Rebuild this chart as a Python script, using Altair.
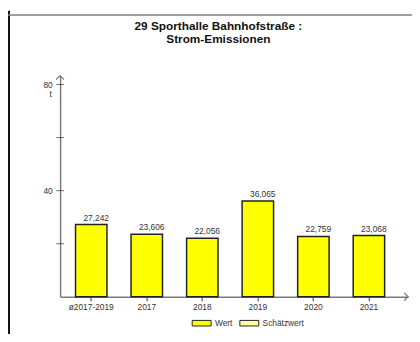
import altair as alt
import pandas as pd

# ---- data ----
categories = ["ø2017-2019", "2017", "2018", "2019", "2020", "2021"]
values = [27.242, 23.606, 22.056, 36.065, 22.759, 23.068]
series = ["Wert", "Schätzwert"]
y_tick_values = [20, 40, 60, 80]
y_label_values = [40, 80]
title_lines = ["29 Sporthalle Bahnhofstraße :", "Strom-Emissionen"]

FONT = "Liberation Sans"
W, H = 354, 225
YMAX = 225 / 2.7

df = pd.DataFrame({
    "Kategorie": categories,
    "Wert": values,
    "Art": ["Wert"] * len(categories),
    "Label": [f"{v:.3f}".replace(".", ",") for v in values],
})
ticks_df = pd.DataFrame({"Wert": y_tick_values})
one = pd.DataFrame({"a": [0]})

x_enc = alt.X(
    "Kategorie:N", sort=categories, title=None,
    scale=alt.Scale(paddingInner=0.434, paddingOuter=0.35, align=0.397),
    axis=alt.Axis(labelAngle=0, labelFont=FONT, labelFontSize=8.5, labelColor="#333333",
                  labelPadding=2, tickSize=4, tickColor="#333333", tickWidth=1,
                  domainColor="#7a7a7a", domainWidth=1.5, grid=False),
)
y_axis = alt.Axis(values=y_label_values, ticks=False, tickSize=0, labelPadding=8,
                  labelFont=FONT, labelFontSize=8.5, labelColor="#333333",
                  domainColor="#7a7a7a", domainWidth=1.5, grid=False,
                  title="t", titleAngle=0, titleX=-10, titleY=18, titleAlign="center",
                  titleBaseline="middle", titleFont=FONT, titleFontSize=8.5,
                  titleFontWeight="normal", titleColor="#333333")
y_scale = alt.Scale(domain=[0, YMAX], nice=False, zero=True)
y_enc = alt.Y("Wert:Q", scale=y_scale, axis=y_axis)

base = alt.Chart(df).encode(x=x_enc, y=y_enc)

bars = base.mark_bar(stroke="#222222", strokeWidth=1.5, opacity=1).encode(
    color=alt.Color(
        "Art:N",
        scale=alt.Scale(domain=series, range=["#ffff00", "#ffffa0"]),
        legend=alt.Legend(
            title=None, orient="none", direction="horizontal", legendX=133.5, legendY=241,
            symbolType="M-1,-0.294H1V0.294H-1Z", symbolSize=371,
            symbolStrokeColor="#222222", symbolStrokeWidth=1, symbolOpacity=1,
            labelFont=FONT, labelFontSize=8.5, labelColor="#333333",
            labelOffset=3, columnPadding=4.5, padding=0,
        ),
    )
)

texts = base.mark_text(baseline="bottom", dy=-2, dx=5, font=FONT, fontSize=8.5,
                       color="#333333").encode(text="Label:N")

yticks = alt.Chart(ticks_df).mark_tick(orient="horizontal", size=8, thickness=1,
                                       color="#333333").encode(
    y=alt.Y("Wert:Q", scale=y_scale, axis=y_axis), x=alt.value(0))

y_arrow = alt.Chart(one).mark_point(shape="M-1,1L0,0L1,1", filled=False, size=64,
                                    stroke="#7a7a7a", strokeWidth=1.3, opacity=1).encode(
    x=alt.value(0), y=alt.value(0))
x_arrow = alt.Chart(one).mark_point(shape="M-1,-1L0,0L-1,1", filled=False, size=64,
                                    stroke="#7a7a7a", strokeWidth=1.3, opacity=1).encode(
    x=alt.value(W), y=alt.value(H))

frame_left = alt.Chart(one).mark_rect(color="#111111", opacity=1).encode(
    x=alt.value(-53), x2=alt.value(-51), y=alt.value(-66), y2=alt.value(H + 40))
frame_top = alt.Chart(one).mark_rect(color="#808080", opacity=1).encode(
    x=alt.value(-53), x2=alt.value(W + 10), y=alt.value(-62.5), y2=alt.value(-61))

title1 = alt.Chart(one).mark_text(font=FONT, fontSize=12, fontWeight="bold", color="#111111",
                                  align="center", baseline="alphabetic").encode(
    x=alt.value(161), y=alt.value(-46), text=alt.value(title_lines[0]))
title2 = alt.Chart(one).mark_text(font=FONT, fontSize=12, fontWeight="bold", color="#111111",
                                  align="center", baseline="alphabetic").encode(
    x=alt.value(161), y=alt.value(-33), text=alt.value(title_lines[1]))

chart = alt.layer(frame_left, frame_top, title1, title2, bars, texts, yticks,
                  y_arrow, x_arrow).properties(
    width=W, height=H,
    autosize=alt.AutoSizeParams(type="none"),
    padding={"left": 53, "top": 66, "right": 4, "bottom": 35},
).configure_view(stroke=None)

chart.save("out.html", embed_options={"renderer": "svg", "actions": False})
